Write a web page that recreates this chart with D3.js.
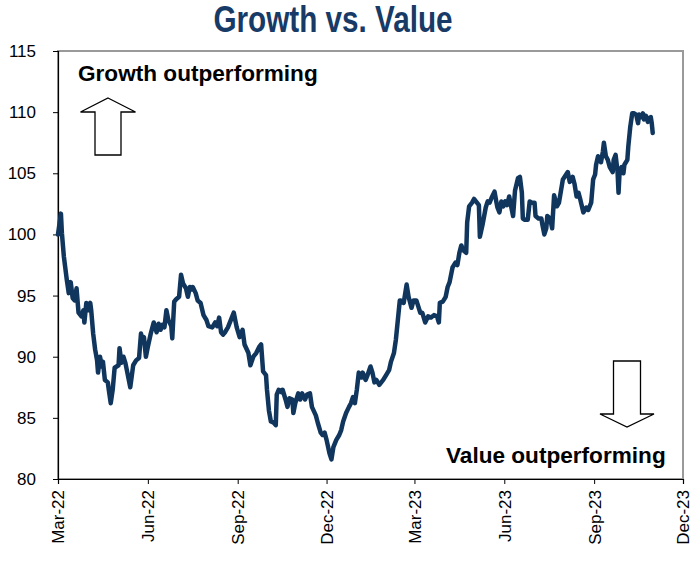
<!DOCTYPE html>
<html>
<head>
<meta charset="utf-8">
<script src="https://cdn.jsdelivr.net/npm/d3@7"></script>
<style>
  html, body { margin: 0; padding: 0; background: #fff; }
  svg { display: block; }
  text { font-family: "Liberation Sans", Arial, sans-serif; }
</style>
</head>
<body>
<svg id="chart" width="700" height="562"></svg>
<script>
// ---- Data ----
const titleText = "Growth vs. Value";
const startDate = "2022-03-01";
// days elapsed since startDate for each observation
const dayOffsets = [
  0,3,4,6,9,11,13,15,17,19,21,24,26,27,29,31,33,34,36,38,40,41,43,45,46,48,51,52,54,56,58,60,62,63,65,67,69,71,74,75,77,80,83,85,86,88,90,92,95,98,101,103,105,107,109,111,113,116,117,119,121,124,126,128,131,133,135,137,138,141,143,146,149,152,154,158,161,163,165,167,169,171,174,
  180,183,186,189,191,195,197,200,203,206,208,210,213,214,216,218,221,223,224,226,229,230,233,235,237,240,241,243,246,248,250,253,255,258,260,264,266,269,271,273,275,278,280,282,285,288,290,292,295,298,300,302,304,306,308,311,312,315,317,320,322,324,326,329,331,333,336,339,341,344,346,348,350,
  351,354,357,359,362,364,367,369,371,373,376,379,382,385,388,390,391,394,397,399,401,404,407,409,411,413,415,418,419,421,424,426,429,431,432,435,438,440,442,444,447,449,450,452,454,456,458,460,462,464,466,468,471,473,475,476,478,481,483,485,488,489,492,495,496,498,500,501,504,506,508,511,
  513,517,522,524,527,529,531,533,535,538,541,543,546,548,550,551,553,556,558,559,561,563,565,568,569,571,573,574,575,577,579,580,583,584,586,588,590,592,594,595,597,599,600,602,604,605,607,608,609
];
const ratioValues = [
  100.0,101.7,100.1,98.2,96.3,95.2,96.1,94.8,94.6,95.6,93.6,93.3,93.8,92.8,94.4,93.8,94.4,93.8,91.9,90.6,89.7,88.7,90.0,89.2,89.6,88.1,87.9,87.3,86.2,87.3,89.1,89.2,89.3,90.7,89.5,90.0,89.5,88.7,87.5,88.1,89.3,89.7,89.9,91.9,91.4,91.6,90.0,90.8,91.9,92.8,92.0,92.7,92.2,92.6,92.4,93.8,93.0,92.5,91.5,94.5,94.7,94.9,96.7,96.0,95.6,94.9,95.7,95.5,95.7,95.2,94.6,94.4,93.4,93.0,92.5,92.4,92.8,92.5,93.2,92.0,91.8,92.0,92.4,
  93.6,92.4,91.6,92.2,91.0,90.3,89.3,90.0,90.3,90.8,91.0,88.8,88.5,87.3,85.6,84.7,84.6,84.4,86.9,87.3,87.1,87.3,86.5,85.9,86.6,86.5,85.4,86.2,87.0,86.5,87.0,86.5,86.9,87.0,85.9,85.2,84.6,83.8,83.6,83.8,83.2,82.1,81.6,82.6,83.2,83.6,84.0,84.7,85.4,85.9,86.2,86.7,86.2,87.3,88.7,88.3,88.7,88.1,88.5,89.2,88.7,87.9,88.1,87.7,87.9,88.1,88.5,88.9,89.6,90.3,91.4,93.0,94.6,
  94.6,94.4,95.9,94.9,94.0,94.6,94.6,94.1,93.6,93.6,92.8,93.3,93.2,93.4,93.3,92.8,94.4,94.5,94.9,95.7,96.1,97.3,97.7,97.5,98.5,99.1,98.7,98.5,101.0,102.3,102.6,102.9,102.6,102.4,99.8,100.9,102.2,102.7,102.6,103.0,103.5,102.6,102.2,101.8,102.7,102.3,102.7,102.4,103.1,102.3,101.5,103.6,104.6,104.7,103.4,101.3,101.2,101.2,102.7,102.6,102.6,101.5,101.3,101.3,100.8,100.0,100.5,101.5,101.3,100.5,103.2,102.3,
  102.6,104.5,105.1,104.3,104.7,104.1,103.1,103.4,102.8,101.8,102.2,102.0,102.6,104.5,104.9,105.7,106.4,105.9,106.8,107.5,106.4,106.1,105.5,105.1,106.1,106.5,105.1,103.4,105.0,105.5,105.0,105.7,106.1,107.2,108.8,109.9,109.9,109.8,109.1,109.8,109.6,109.9,109.4,109.7,109.2,109.5,109.6,109.1,108.3
];
const yTicks = [80, 85, 90, 95, 100, 105, 110, 115];
const xTickDates = ["2022-03-01","2022-06-01","2022-09-01","2022-12-01","2023-03-01","2023-06-01","2023-09-01","2023-12-01"];
const xDomain = ["2022-03-01", "2023-12-01"];
const yDomain = [80, 115];
const upLabel = "Growth outperforming";
const downLabel = "Value outperforming";

// ---- Build ----
const parse = d3.utcParse("%Y-%m-%d");
const base = parse(startDate);
const series = dayOffsets.map((d, i) => ({ date: d3.utcDay.offset(base, d), value: ratioValues[i] }));

const svg = d3.select("#chart");
const m = { left: 58, right: 683, top: 51, bottom: 479 };

const x = d3.scaleUtc().domain(xDomain.map(parse)).range([m.left, m.right]);
const y = d3.scaleLinear().domain(yDomain).range([m.bottom, m.top]);

// title (condensed look)
svg.append("text")
  .attr("x", 333).attr("y", 32)
  .attr("text-anchor", "middle")
  .attr("textLength", 239)
  .attr("lengthAdjust", "spacingAndGlyphs")
  .style("font-family", "'Liberation Sans Narrow', 'Arial Narrow', 'Liberation Sans', sans-serif")
  .style("font-weight", "bold")
  .style("font-size", "36px")
  .attr("fill", "#173a66")
  .text(titleText);

// frame (grey)
svg.append("rect")
  .attr("x", m.left).attr("y", m.top)
  .attr("width", m.right - m.left).attr("height", m.bottom - m.top)
  .attr("fill", "none").attr("stroke", "#9a9a9a").attr("stroke-width", 2);

// y axis
const yAxis = svg.append("g")
  .attr("transform", `translate(${m.left},0)`)
  .call(d3.axisLeft(y).tickValues(yTicks).tickSize(5).tickPadding(17).tickFormat(d3.format("d")));
yAxis.select(".domain").attr("stroke", "#000").attr("stroke-width", 1.2);
yAxis.selectAll(".tick line").attr("stroke", "#000");
yAxis.selectAll(".tick text")
  .style("font-family", "'Liberation Sans', Arial, sans-serif")
  .style("font-size", "17px").attr("fill", "#000");

// x axis
const xAxis = svg.append("g")
  .attr("transform", `translate(0,${m.bottom})`)
  .call(d3.axisBottom(x).tickValues(xTickDates.map(parse)).tickSize(5).tickFormat(d3.utcFormat("%b-%y")));
xAxis.select(".domain").attr("stroke", "#000").attr("stroke-width", 1.2);
xAxis.selectAll(".tick line").attr("stroke", "#000");
xAxis.selectAll(".tick text")
  .style("font-family", "'Liberation Sans', Arial, sans-serif")
  .style("font-size", "17px").attr("fill", "#000")
  .attr("transform", "rotate(-90)")
  .attr("text-anchor", "end")
  .attr("x", -11).attr("y", 0).attr("dy", "0.35em");

// line
const line = d3.line().x(d => x(d.date)).y(d => y(d.value)).curve(d3.curveLinear);
svg.append("path")
  .datum(series)
  .attr("d", line)
  .attr("fill", "none")
  .attr("stroke", "#10365e")
  .attr("stroke-width", 4.5)
  .attr("stroke-linejoin", "round")
  .attr("stroke-linecap", "round");

// annotations
svg.append("text")
  .attr("x", 78).attr("y", 81)
  .style("font-weight", "bold").style("font-size", "22.6px").attr("fill", "#000")
  .text(upLabel);
svg.append("text")
  .attr("x", 446).attr("y", 463)
  .style("font-weight", "bold").style("font-size", "22.6px").attr("fill", "#000")
  .text(downLabel);

// arrows (block arrows)
function upArrow(cx, tipY, bottomY, headW, shaftW, headH) {
  return [
    [cx, tipY], [cx + headW / 2, tipY + headH], [cx + shaftW / 2, tipY + headH],
    [cx + shaftW / 2, bottomY], [cx - shaftW / 2, bottomY], [cx - shaftW / 2, tipY + headH],
    [cx - headW / 2, tipY + headH]
  ];
}
function downArrow(cx, topY, tipY, headW, shaftW, headH) {
  return [
    [cx - shaftW / 2, topY], [cx + shaftW / 2, topY], [cx + shaftW / 2, tipY - headH],
    [cx + headW / 2, tipY - headH], [cx, tipY], [cx - headW / 2, tipY - headH],
    [cx - shaftW / 2, tipY - headH]
  ];
}
svg.append("polygon")
  .attr("points", upArrow(108, 98, 155, 55, 26, 14).join(" "))
  .attr("fill", "#fff").attr("stroke", "#000").attr("stroke-width", 1.3);
svg.append("polygon")
  .attr("points", downArrow(627, 361, 427, 54, 27, 13).join(" "))
  .attr("fill", "#fff").attr("stroke", "#000").attr("stroke-width", 1.3);
</script>
</body>
</html>
